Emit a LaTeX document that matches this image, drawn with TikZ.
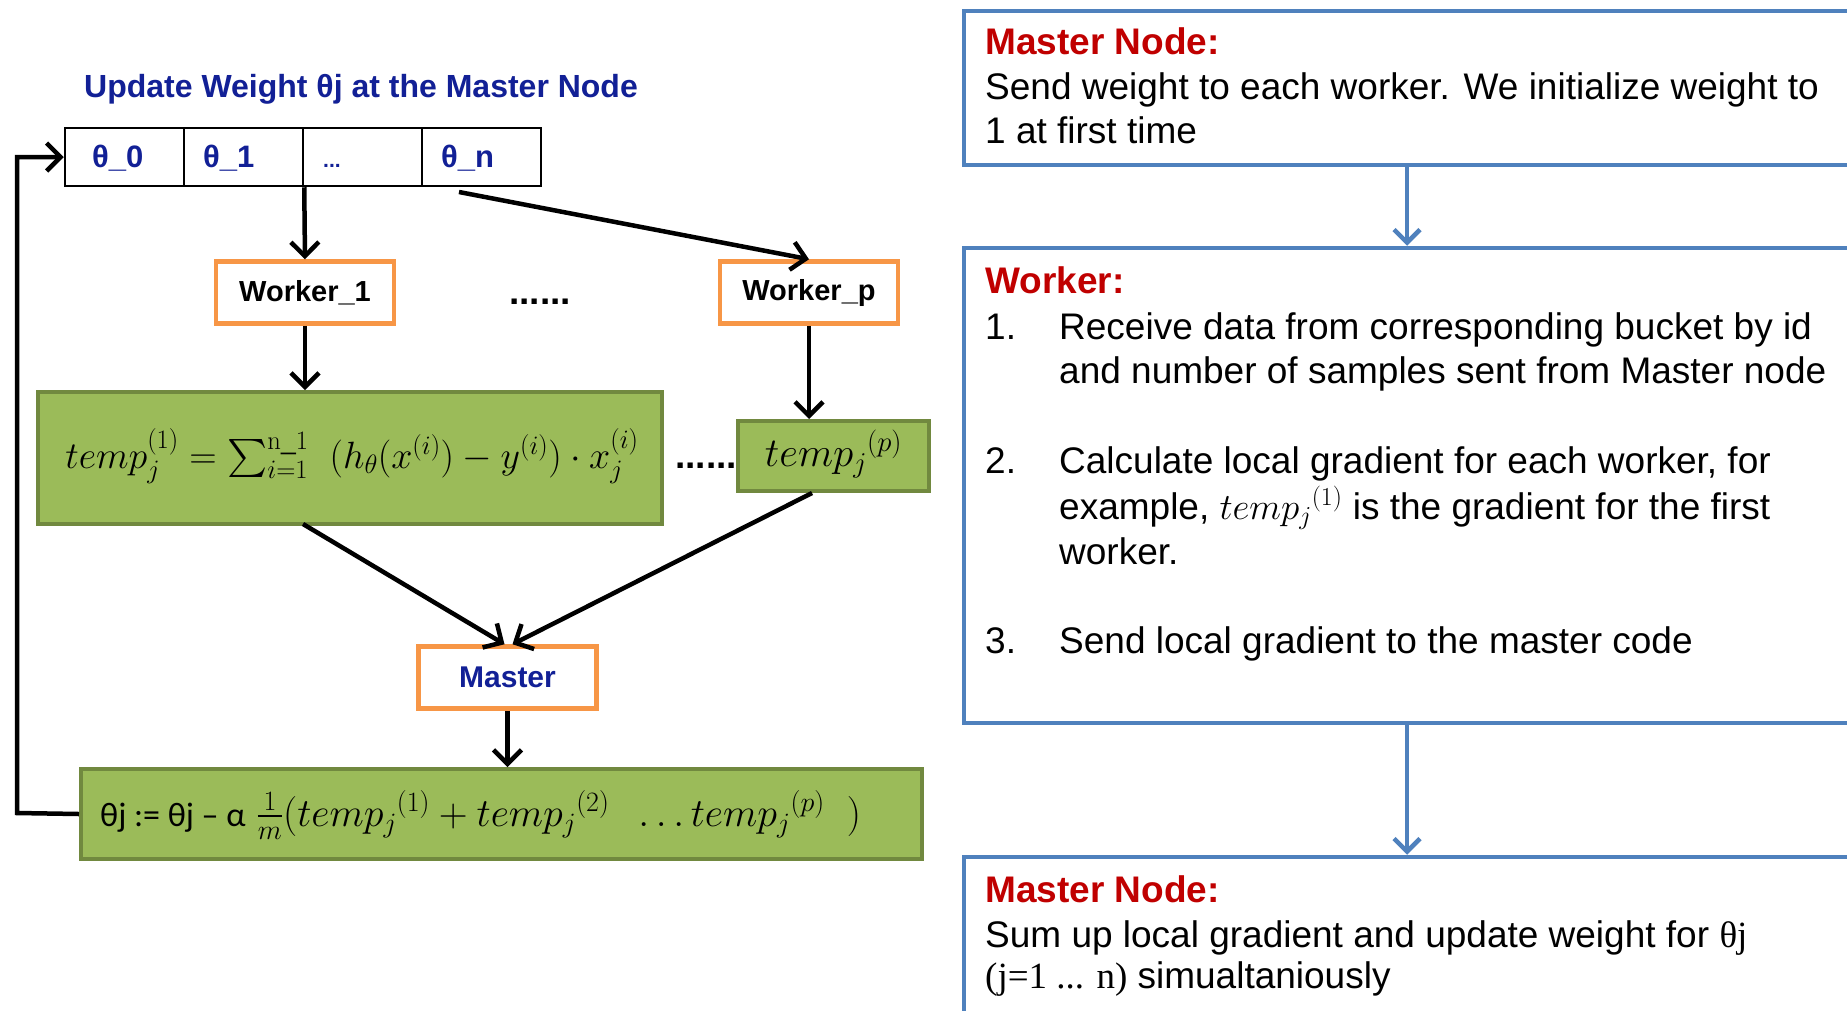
\RequirePackage{fix-cm}
\documentclass[tikz,border=0pt]{standalone}
\usepackage{amsmath}
\DeclareFontFamily{OMX}{cmex}{}
\DeclareFontShape{OMX}{cmex}{m}{n}{<-> cmex10}{}
\usepackage[no-math]{fontspec}
\setmainfont{Liberation Sans}
\newfontfamily\lserif{Liberation Serif}
\newfontfamily\carl{Carlito}
\usetikzlibrary{arrows.meta}
\definecolor{dblue}{RGB}{18,32,150}
\definecolor{mred}{RGB}{192,0,0}
\definecolor{borange}{RGB}{247,150,70}
\definecolor{gfill}{RGB}{155,187,89}
\definecolor{gdraw}{RGB}{113,137,63}
\definecolor{sblue}{RGB}{79,129,189}
\tikzset{
  cell/.style={draw=black, line width=2.5pt, minimum width=119pt, minimum height=58pt, inner sep=0pt},
  thlab/.style={anchor=base west, text=dblue, font=\fontsize{31}{36}\selectfont\bfseries, inner sep=0pt},
  obox/.style={draw=borange, line width=4.5pt, fill=white, minimum width=178pt, minimum height=62pt, inner sep=0pt, font=\fontsize{29}{34}\selectfont\bfseries},
  gbox/.style={draw=gdraw, line width=4pt, fill=gfill, inner sep=0pt},
  barrow/.style={line width=4.5pt, -{Straight Barb[length=14pt,width=28pt]}},
  sarrow/.style={draw=sblue, line width=4.5pt, -{Straight Barb[length=13pt,width=26pt]}},
  sbox/.style={draw=sblue, line width=4.5pt, inner sep=0pt, minimum width=886pt},
  rtxt/.style={anchor=base west, inner sep=0pt, font=\fontsize{37}{44}\selectfont},
  rhead/.style={anchor=base west, inner sep=0pt, text=mred, font=\fontsize{37}{44}\selectfont\bfseries},
  dots/.style={anchor=base, inner sep=0pt, font=\fontsize{37}{40}\selectfont\bfseries},
}
\begin{document}
\begin{tikzpicture}[x=1pt,y=-1pt]
\useasboundingbox (0,0) rectangle (1847,1010);
\fill[white] (0,0) rectangle (1847,1010);

% title
\node[anchor=base west, inner sep=0pt, text=dblue, font=\fontsize{32}{36}\selectfont\bfseries] (title) at (84,97) {Update Weight θj at the Master Node};

% theta array
\node[cell] (c0) at (124.5,157) {};
\node[cell] (c1) at (243.5,157) {};
\node[cell] (c2) at (362.5,157) {};
\node[cell] (c3) at (481.5,157) {};
\node[thlab] (l0) at (92,167) {θ\_0};
\node[thlab] (l1) at (203,167) {θ\_1};
\node[thlab, font=\fontsize{21}{24}\selectfont\bfseries] (l2) at (323,167) {...};
\node[thlab] (l3) at (441,167) {θ\_n};

% workers
\node[obox] (w1) at (305,292.5) {Worker\_1};
\node[obox] (wp) at (809,292.5) {Worker\_p};
\node[dots] (d1) at (540,304) {......};

% green boxes
\node[gbox, minimum width=624pt, minimum height=132pt] (g1) at (350,458) {};
\node[inner sep=0pt, font=\fontsize{38}{44}\selectfont] (f1) at (352,456) {$temp_j^{(1)} = \sum_{i=1}^{\mathrm{n\_1}}\ \ (h_\theta(x^{(i)}) - y^{(i)}) \cdot x_j^{(i)}$};
\node[gbox, minimum width=191pt, minimum height=70pt] (gp) at (833.5,456) {};
\node[inner sep=0pt, font=\fontsize{41}{46}\selectfont] (fp) at (833.5,454) {${temp_j}^{(p)}$};
\node[dots] (d2) at (706,468) {......};

% master
\node[obox, text=dblue, font=\fontsize{30}{34}\selectfont\bfseries] (m) at (507.5,677.5) {Master};

% bottom green
\node[gbox, minimum width=841pt, minimum height=90pt] (gb) at (501.5,814) {};
\node[anchor=base west, inner sep=0pt, font=\fontsize{40}{46}\selectfont] (fb) at (100,826) {{\carl\fontsize{34}{40}\selectfont θj := θj – α} $\frac{1}{m}({temp_j}^{(1)} + {temp_j}^{(2)}\ \ \ldots{temp_j}^{(p)}\ \ )$};

% connectors left
\coordinate (s2) at (459,192);
\coordinate (a1) at (303,524);
\coordinate (a2) at (812,493);
\draw[barrow] (c1.south east) -- (w1.north);
\draw[barrow] (s2) -- (wp.north);
\draw[barrow] (w1.south) -- (g1.north -| w1.south);
\draw[barrow] (wp.south) -- (gp.north -| wp.south);
\draw[barrow] (a1) -- ([xshift=-3pt]m.north);
\draw[barrow] (a2) -- ([xshift=5pt]m.north);
\draw[barrow] (m.south) -- (gb.north -| m.south);
\draw[barrow] (gb.west) -- (17,813) -- (17,157) -- (c0.west);

% right side boxes
\node[sbox, minimum height=154pt] (b1) at (1407,88) {};
\node[sbox, minimum height=475pt] (b2) at (1407,485.5) {};
\node[sbox, minimum height=160pt] (b3) at (1407,937) {};
\draw[sarrow] (b1.south) -- (b2.north);
\draw[sarrow] (b2.south) -- (b3.north);

\node[rhead] (h1) at (985,54) {Master Node:};
\node[rtxt] (t1) at (985,99) {Send weight to each worker. We initialize weight to};
\node[rtxt] (t2) at (985,143.5) {1 at first time};

\node[rhead] (h2) at (985,293) {Worker:};
\node[rtxt] (n1) at (985,339) {1.};
\node[rtxt] (t3) at (1059,339) {Receive data from corresponding bucket by id};
\node[rtxt] (t4) at (1059,383) {and number of samples sent from Master node};
\node[rtxt] (n2) at (985,473) {2.};
\node[rtxt] (t5) at (1059,473) {Calculate local gradient for each worker, for};
\node[rtxt] (t6) at (1059,519) {example, ${temp_j}^{(1)}$ is the gradient for the first};
\node[rtxt] (t7) at (1059,564) {worker.};
\node[rtxt] (n3) at (985,653) {3.};
\node[rtxt] (t8) at (1059,653) {Send local gradient to the master code};

\node[rhead] (h3) at (985,902) {Master Node:};
\node[rtxt] (t9) at (985,947) {Sum up local gradient and update weight for {\lserif θj}};
\node[rtxt] (t10) at (985,988) {{\lserif (j=1 ... n)} simualtaniously};
\end{tikzpicture}
\end{document}
